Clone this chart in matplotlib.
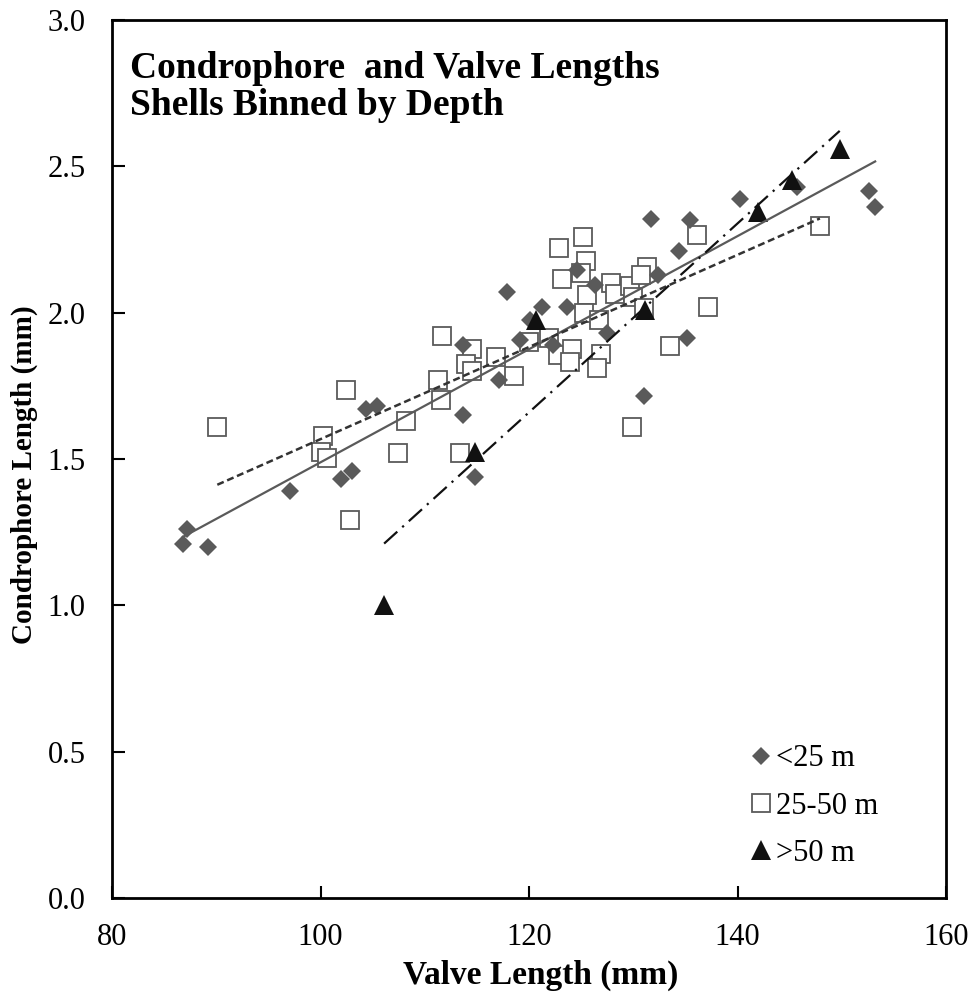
"""Condrophore vs valve length, shells binned by depth."""

import numpy as np
import matplotlib
matplotlib.use("Agg")
import matplotlib.pyplot as plt

plt.rcParams["font.family"] = ["Liberation Serif", "DejaVu Serif"]

# <25 m
shallow_x = [86.8, 87.2, 89.2, 97.1, 102.0, 103.0, 104.4, 105.4, 113.7, 113.7,
             114.8, 117.1, 117.9, 119.1, 120.1, 121.2, 122.3, 123.6, 124.6, 126.3,
             127.5, 131.7, 132.4, 134.4, 135.4, 135.2, 131.0, 140.2, 145.7, 152.6,
             153.2]
shallow_y = [1.21, 1.26, 1.20, 1.39, 1.43, 1.46, 1.67, 1.68, 1.89, 1.65,
             1.44, 1.77, 2.07, 1.905, 1.975, 2.02, 1.89, 2.02, 2.145, 2.095,
             1.93, 2.32, 2.13, 2.21, 2.315, 1.915, 1.715, 2.39, 2.43, 2.415,
             2.36]

# 25-50 m
mid_x = [90.1, 102.4, 100.2, 100.0, 100.6, 108.2, 107.4, 102.8, 111.7, 111.3,
         111.6, 113.4, 114.5, 114.0, 114.5, 116.8, 118.6, 120.0, 121.9, 122.8,
         124.1, 123.9, 122.9, 125.2, 125.5, 123.2, 125.6, 125.3, 126.7, 126.9,
         126.5, 127.9, 128.2, 129.7, 130.0, 131.0, 131.3, 130.7, 136.1, 137.2,
         133.5, 129.9, 147.9, 125.0]
mid_y = [1.61, 1.735, 1.58, 1.525, 1.505, 1.63, 1.52, 1.29, 1.92, 1.77,
         1.70, 1.52, 1.875, 1.825, 1.80, 1.85, 1.785, 1.90, 1.915, 1.855,
         1.875, 1.83, 2.22, 2.26, 2.175, 2.115, 2.06, 2.00, 1.975, 1.86,
         1.81, 2.10, 2.065, 2.09, 2.055, 2.015, 2.155, 2.13, 2.265, 2.02,
         1.885, 1.61, 2.295, 2.135]

# >50 m
deep_x = [106.1, 114.8, 120.7, 131.1, 142.0, 145.2, 149.8]
deep_y = [1.00, 1.523, 1.976, 2.010, 2.344, 2.455, 2.558]

GRAY = "#5a5a5a"
BLACK = "#111111"


def trend(ax, x, y, **kw):
    """Least-squares line spanning the x range of the series."""
    x = np.asarray(x)
    k, b = np.polyfit(x, np.asarray(y), 1)
    xs = np.array([x.min(), x.max()])
    ax.plot(xs, k * xs + b, zorder=5, **kw)


fig = plt.figure(figsize=(9.74, 9.96), dpi=100)
ax = fig.add_axes([0.115, 0.0984, 0.8563, 0.8815])

ax.plot(mid_x, mid_y, "s", ms=12.5, mfc="white", mec=GRAY, mew=1.3,
        label="25-50 m", zorder=2)
ax.plot(shallow_x, shallow_y, "D", ms=9.2, color=GRAY, mew=0,
        label="<25 m", zorder=3)
ax.plot(deep_x, deep_y, "^", ms=14, color=BLACK, mew=0,
        label=">50 m", zorder=4)

trend(ax, shallow_x, shallow_y, color=GRAY, lw=1.6)
trend(ax, mid_x, mid_y, color="#333333", lw=1.8, dashes=(2.8, 1.5))
trend(ax, deep_x, deep_y, color=BLACK, lw=1.6, dashes=(8, 3, 1, 3))

ax.set_xlim(80, 160)
ax.set_ylim(0, 3)
ax.set_xticks(np.arange(80, 161, 20))
ax.set_yticks(np.arange(0, 3.01, 0.5))
ax.set_yticklabels([f"{v:.1f}" for v in np.arange(0, 3.01, 0.5)])
ax.tick_params(direction="in", length=9, width=1.5, labelsize=22)
ax.tick_params(axis="x", pad=18)
ax.tick_params(axis="y", pad=19)
for s in ax.spines.values():
    s.set_linewidth(2)

ax.set_xlabel("Valve Length (mm)", fontsize=24, fontweight="bold")
ax.set_ylabel("Condrophore Length (mm)", fontsize=21, fontweight="bold")
ax.xaxis.set_label_coords(0.514, -0.070)
ax.yaxis.set_label_coords(-0.089, 0.482)

ax.text(0.0216, 0.965, "Condrophore  and Valve Lengths\nShells Binned by Depth",
        transform=ax.transAxes, ha="left", va="top", fontsize=27,
        fontweight="bold", linespacing=1.08)

handles, labels = ax.get_legend_handles_labels()
order = [1, 0, 2]
ax.legend([handles[i] for i in order], [labels[i] for i in order],
          loc="upper left", bbox_to_anchor=(0.76, 0.175), frameon=False,
          fontsize=22, handlelength=1.0, handletextpad=0.0, borderpad=0,
          borderaxespad=0, labelspacing=0.6)

fig.savefig("out.png")
